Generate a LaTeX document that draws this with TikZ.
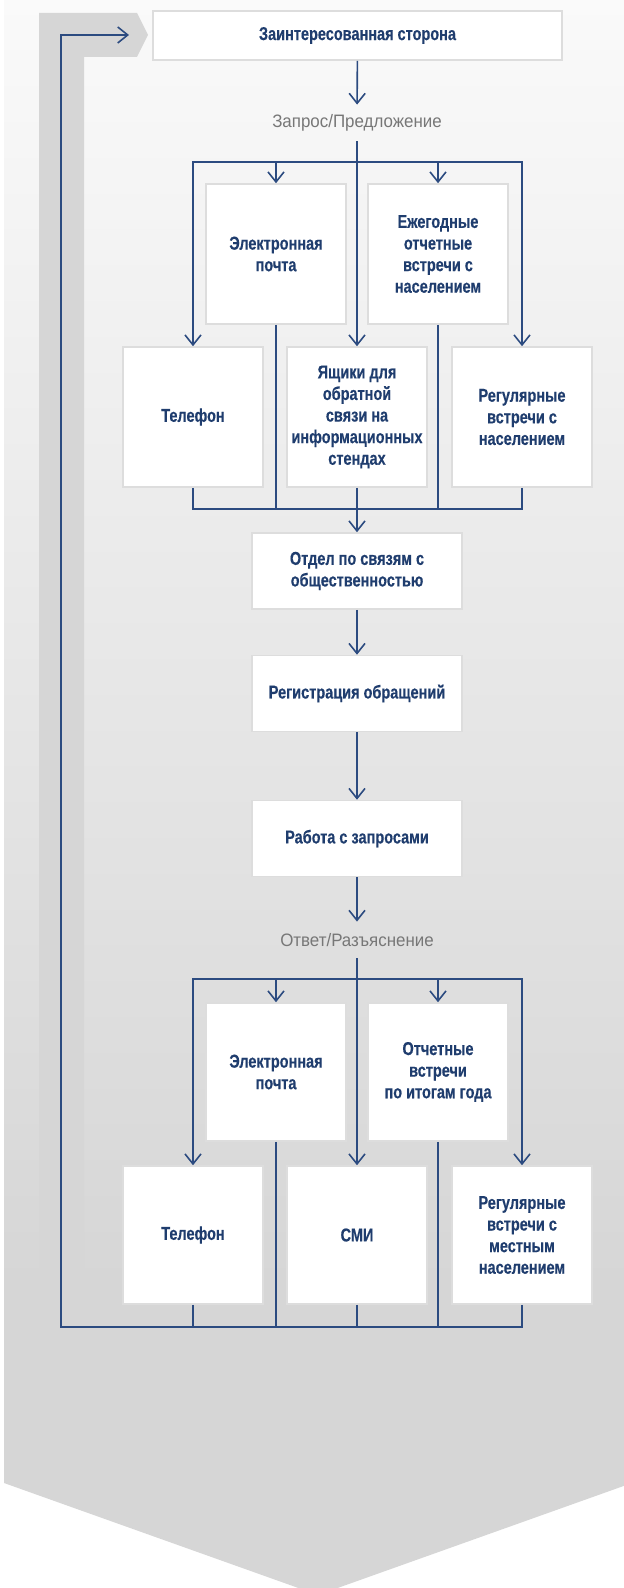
\documentclass[tikz,border=0pt]{standalone}
\usepackage{fontspec}
\setmainfont{Liberation Sans}[FakeStretch=0.78, BoldFeatures={FakeBold=0.3}]
\newfontfamily\notefont{Liberation Sans}[FakeStretch=0.94]
\usetikzlibrary{arrows.meta}
\definecolor{navy}{HTML}{1F3D6E}
\definecolor{linkblue}{HTML}{2C4B80}
\definecolor{txtgray}{HTML}{777777}
\definecolor{rim}{HTML}{DDDDDD}
\definecolor{bandgray}{HTML}{D6D6D6}
\begin{document}
\begin{tikzpicture}[x=0.5pt,y=-0.5pt]
 \tikzset{directed/.style={-{Straight Barb[length=5pt,width=8pt]}}}
 \tikzset{link/.style={draw=linkblue, line width=0.8pt}}
 \tikzset{box/.style={draw=rim, line width=0.8pt, fill=white, text=navy, align=center, inner sep=0pt,
   font=\bfseries\fontsize{9.3}{10.8}\selectfont, minimum width=70pt, minimum height=70pt}}
 \tikzset{wide/.style={box, minimum width=105pt, minimum height=38pt}}
 \tikzset{note/.style={text=txtgray, font=\notefont\fontsize{9}{11}\selectfont, inner sep=0pt, minimum height=18pt}}
  \useasboundingbox (0,0) rectangle (624,1588);
  % background arrow
  \shade[top color=white!98!black, bottom color=bandgray] (4,0) rectangle (632,1285);
  \fill[bandgray] (4,1284) -- (632,1284) -- (632,1483) -- (318,1595) -- (4,1483) -- cycle;
  \fill[bandgray] (39,13) -- (137,13) -- (148,35) -- (137,57) -- (84,57) -- (84,1290) -- (39,1290) -- cycle;
  \node[box, minimum width=204.5pt, minimum height=24.5pt] (S) at (357.5,35.5) {Заинтересованная сторона};
  \node[note] (Q) at (357,123) {Запрос/Предложение};
  \node[box] (E1) at (276,254) {Электронная\\почта};
  \node[box] (Y1) at (438,254) {Ежегодные\\отчетные\\встречи с\\населением};
  \node[box] (T1) at (193,417) {Телефон};
  \node[box] (B1) at (357,417) {Ящики для\\обратной\\связи на\\информационных\\стендах};
  \node[box] (R1) at (522,417) {Регулярные\\встречи с\\населением};
  \node[wide] (P) at (357,571) {Отдел по связям с\\общественностью};
  \node[wide] (G) at (357,693.5) {Регистрация обращений};
  \node[wide] (W) at (357,838.5) {Работа с запросами};
  \node[note] (O) at (357,940) {Ответ/Разъяснение};
  \node[box, minimum height=69pt] (E2) at (276,1072) {Электронная\\почта};
  \node[box, minimum height=69pt] (Y2) at (438,1072) {Отчетные\\встречи\\по итогам года};
  \node[box, minimum height=69pt] (T2) at (193,1235) {Телефон};
  \node[box, minimum height=69pt] (M2) at (357,1235) {СМИ};
  \node[box, minimum height=69pt] (R2) at (522,1235) {Регулярные\\встречи с\\местным\\населением};
  \coordinate (U1) at (357,162);
  \coordinate (D1) at (357,509);
  \coordinate (U2) at (357,979);
  \coordinate (D2) at (357,1327);
  \coordinate (L) at (61,1327);
  \coordinate (Z) at (129,35);
  % request
  \draw[link, directed] (S) -- (Q);
  \draw[link, directed] (Q) -- (B1);
  \draw[link, directed] (U1) -| (T1);
  \draw[link, directed] (U1) -| (R1);
  \draw[link, directed] (U1 -| E1) -- (E1);
  \draw[link, directed] (U1 -| Y1) -- (Y1);
  \draw[link] (T1) |- (D1);
  \draw[link] (R1) |- (D1);
  \draw[link] (E1) -- (E1 |- D1);
  \draw[link] (Y1) -- (Y1 |- D1);
  \draw[link, directed] (B1) -- (P);
  \draw[link, directed] (P) -- (G);
  \draw[link, directed] (G) -- (W);
  \draw[link, directed] (W) -- (O);
  % answer
  \draw[link, directed] (O) -- (M2);
  \draw[link, directed] (U2) -| (T2);
  \draw[link, directed] (U2) -| (R2);
  \draw[link, directed] (U2 -| E2) -- (E2);
  \draw[link, directed] (U2 -| Y2) -- (Y2);
  \draw[link] (T2) -- (T2 |- D2);
  \draw[link] (E2) -- (E2 |- D2);
  \draw[link] (M2) -- (D2);
  \draw[link] (Y2) -- (Y2 |- D2);
  \draw[link, directed] (R2) |- (L) |- (Z);
\end{tikzpicture}
\end{document}
